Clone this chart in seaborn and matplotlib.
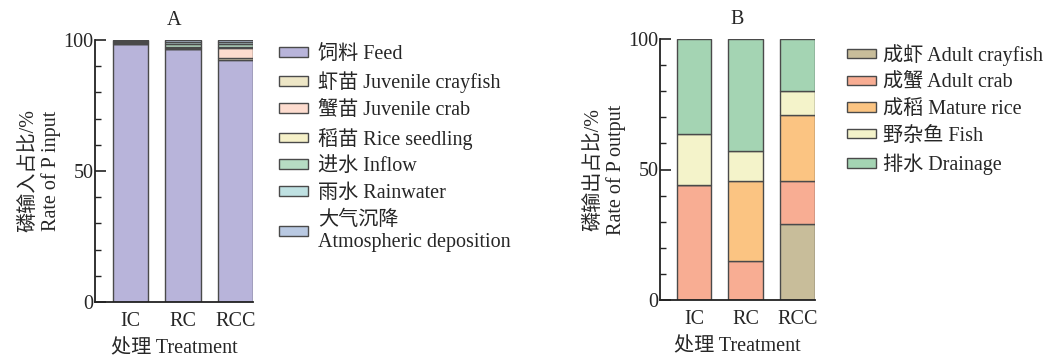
import numpy as np
import pandas as pd
import matplotlib
matplotlib.use("Agg")
import matplotlib.pyplot as plt
from matplotlib.patches import Patch
from matplotlib.ticker import MultipleLocator
import seaborn as sns

# ---- data -------------------------------------------------------------
treatments = ["IC", "RC", "RCC"]

# Phosphorus input shares (%)
input_labels = ["饲料 Feed", "虾苗 Juvenile crayfish", "蟹苗 Juvenile crab",
                "稻苗 Rice seedling", "进水 Inflow", "雨水 Rainwater",
                "大气沉降\nAtmospheric deposition"]
feed = [98.5, 96.4, 92.3]
juvenile_crayfish = [0.0, 0.0, 1.0]
juvenile_crab = [0.5, 0.6, 3.7]
rice_seedling = [0.0, 0.3, 0.5]
inflow = [0.4, 1.3, 0.8]
rainwater = [0.3, 0.7, 0.8]
atmospheric = [0.3, 0.7, 0.9]
input_colors = ["#b8b4da", "#ede6c6", "#fddccf", "#f6f1c9",
                "#b6dcc3", "#bfe1e2", "#b9c9e2"]

# Phosphorus output shares (%)
output_labels = ["成虾 Adult crayfish", "成蟹 Adult crab", "成稻 Mature rice",
                 "野杂鱼 Fish", "排水 Drainage"]
adult_crayfish = [0.0, 0.0, 29.0]
adult_crab = [44.0, 15.0, 16.6]
mature_rice = [0.0, 30.7, 25.4]
fish = [19.6, 11.5, 9.0]
drainage = [36.4, 42.8, 20.0]
output_colors = ["#c8bd9a", "#f8ad93", "#fbc482", "#f4f3ca", "#a4d4b3"]

# ---- style ------------------------------------------------------------
sns.set_theme(style="ticks")
plt.rcParams["font.family"] = ["Liberation Serif", "Noto Sans CJK SC"]
plt.rcParams["axes.unicode_minus"] = False
FS = 14.5
EDGE = "#4a4a4a"

fig = plt.figure(figsize=(10.55, 3.59), dpi=100)
W, H = 1055, 359
axA = fig.add_axes([95 / W, 1 - 302 / H, (253 - 95) / W, (302 - 40) / H])
axB = fig.add_axes([660 / W, 1 - 300 / H, (815 - 660) / W, (300 - 39) / H])


def stacked(ax, series, colors):
    bottom = np.zeros(len(treatments))
    for vals, col in zip(series, colors):
        df = pd.DataFrame({"treatment": treatments, "value": vals})
        sns.barplot(data=df, x="treatment", y="value", order=treatments,
                    color=col, saturation=1, width=0.67, bottom=bottom,
                    edgecolor=EDGE, linewidth=1.0, ax=ax, errorbar=None)
        bottom = bottom + np.asarray(vals)


def style_axis(ax, title, ylabel, xlim_left):
    ax.set_xlim(xlim_left, 2.335)
    ax.set_ylim(0, 100)
    ax.yaxis.set_major_locator(MultipleLocator(50))
    ax.yaxis.set_minor_locator(MultipleLocator(10))
    ax.tick_params(axis="y", which="major", direction="in", length=8,
                   width=1.2, color="#222222", labelsize=FS, pad=1)
    ax.tick_params(axis="y", which="minor", direction="in", length=4.5,
                   width=1.0, color="#222222")
    ax.tick_params(axis="x", length=0, labelsize=FS, pad=7)
    for s in ("top", "right"):
        ax.spines[s].set_visible(False)
    for s in ("left", "bottom"):
        ax.spines[s].set_linewidth(1.3)
        ax.spines[s].set_color("#222222")
    ax.set_xlabel("处理 Treatment", fontsize=FS, labelpad=6.5)
    ax.set_ylabel(ylabel, fontsize=FS, labelpad=2, linespacing=1.15)
    ax.set_title(title, fontsize=FS, pad=11)


stacked(axA, [feed, juvenile_crayfish, juvenile_crab, rice_seedling,
              inflow, rainwater, atmospheric], input_colors)
style_axis(axA, "A", "磷输入占比/%\nRate of P input", -0.68)

stacked(axB, [adult_crayfish, adult_crab, mature_rice, fish, drainage],
        output_colors)
style_axis(axB, "B", "磷输出占比/%\nRate of P output", -0.655)

handlesA = [Patch(facecolor=c, edgecolor=EDGE, linewidth=1.0) for c in input_colors]
fig.legend(handlesA, input_labels, loc="upper left",
           bbox_to_anchor=(279 / W, 1 - 45 / H), frameon=False,
           fontsize=FS, handlelength=1.45, handleheight=0.35,
           handletextpad=0.5, labelspacing=0.38, borderpad=0,
           borderaxespad=0)

handlesB = [Patch(facecolor=c, edgecolor=EDGE, linewidth=1.0) for c in output_colors]
fig.legend(handlesB, output_labels, loc="upper left",
           bbox_to_anchor=(847 / W, 1 - 44 / H), frameon=False,
           fontsize=FS, handlelength=1.45, handleheight=0.35,
           handletextpad=0.35, labelspacing=0.38, borderpad=0,
           borderaxespad=0)

fig.savefig("out.png", dpi=100)
